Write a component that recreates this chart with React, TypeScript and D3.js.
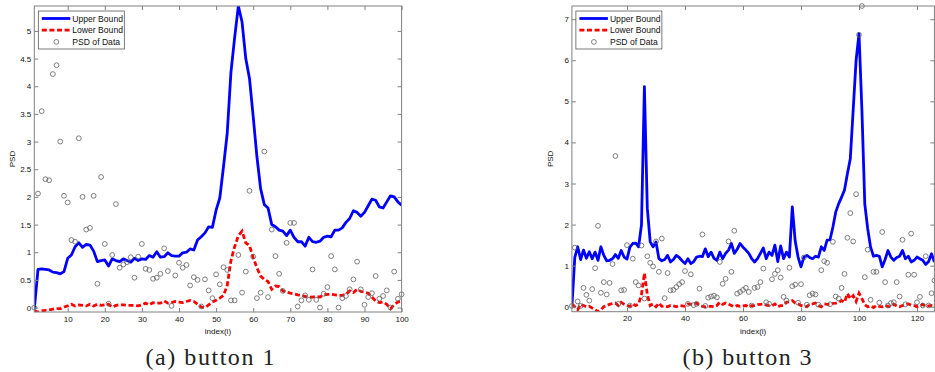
import React, { useRef, useEffect } from 'react';
import * as d3 from 'd3';

// button 1 (index 1..100)
const upper1 = [
  -0.03, 0.69, 0.70, 0.69, 0.68, 0.64, 0.63, 0.61, 0.65, 0.89,
  0.95, 1.10, 1.17, 1.09, 1.14, 1.13, 1.02, 0.83, 0.85, 0.86,
  0.75, 0.88, 0.85, 0.83, 0.88, 0.85, 0.82, 0.89, 0.85, 0.88,
  0.87, 0.94, 0.91, 1.01, 0.91, 0.92, 0.99, 0.94, 0.93, 0.93,
  0.99, 1.00, 1.06, 1.04, 1.22, 1.28, 1.35, 1.46, 1.45, 1.76,
  1.98, 2.55, 3.15, 4.25, 4.88, 5.45, 5.16, 4.50, 4.14, 3.45,
  2.73, 2.15, 1.86, 1.80, 1.50, 1.46, 1.40, 1.38, 1.30, 1.40,
  1.27, 1.19, 1.19, 1.11, 1.27, 1.19, 1.18, 1.20, 1.27, 1.29,
  1.28, 1.40, 1.40, 1.44, 1.54, 1.61, 1.75, 1.72, 1.65, 1.72,
  1.84, 1.96, 1.94, 1.82, 1.80, 1.91, 2.02, 2.00, 1.91, 1.85,
];
const lower1 = [
  -0.06, -0.08, -0.06, -0.05, -0.04, -0.03, -0.02, -0.02, 0.01, 0.03,
  0.06, 0.03, 0.05, 0.04, 0.03, 0.06, 0.03, 0.06, 0.04, 0.05,
  0.06, 0.01, 0.04, 0.05, 0.05, 0.04, 0.04, 0.04, 0.03, 0.05,
  0.08, 0.05, 0.09, 0.08, 0.08, 0.12, 0.08, 0.09, 0.11, 0.10,
  0.09, 0.11, 0.13, 0.11, 0.06, 0.01, 0.00, 0.05, 0.10, 0.13,
  0.17, 0.22, 0.40, 0.85, 1.10, 1.30, 1.38, 1.17, 1.12, 0.90,
  0.72, 0.57, 0.51, 0.47, 0.33, 0.39, 0.38, 0.30, 0.28, 0.26,
  0.25, 0.23, 0.22, 0.20, 0.19, 0.19, 0.20, 0.19, 0.23, 0.24,
  0.24, 0.23, 0.22, 0.22, 0.24, 0.30, 0.27, 0.33, 0.29, 0.28,
  0.26, 0.19, 0.12, 0.09, 0.10, 0.06, -0.02, 0.05, 0.10, 0.12,
];
const psd1 = [
  0.00, 2.06, 3.55, 2.32, 2.30, 4.22, 4.38, 3.00, 2.02, 1.90,
  1.22, 1.19, 3.06, 2.00, 1.41, 1.44, 2.02, 0.43, 2.36, 1.15,
  0.07, 0.95, 1.87, 0.72, 0.78, 0.82, 0.91, 0.54, 0.92, 1.15,
  0.70, 0.68, 0.52, 0.54, 0.61, 1.07, 0.66, 0.03, 0.58, 0.81,
  0.72, 0.77, 0.40, 0.55, 0.50, 0.02, 0.51, 0.31, 0.17, 0.60,
  0.42, 0.73, 0.68, 0.13, 0.13, 0.95, 0.27, 0.65, 2.11, 0.92,
  0.17, 0.27, 2.82, 0.19, 1.41, 0.93, 0.61, 0.30, 1.17, 1.53,
  1.53, 0.02, 0.13, 0.22, 0.14, 0.69, 0.14, 0.00, 0.25, 0.37,
  0.93, 0.69, 0.00, 0.17, 0.21, 0.33, 0.51, 0.83, 0.33, 0.05,
  0.19, 0.26, 0.57, 0.16, 0.21, 0.31, 0.00, 0.65, 0.16, 0.24,
];

// button 3 (index 1..126)
const upper3 = [
  0.00, 1.20, 1.46, 1.15, 1.38, 1.18, 1.34, 1.17, 1.33, 1.13,
  1.46, 1.25, 1.12, 1.13, 1.17, 1.27, 1.18, 1.37, 1.21, 1.16,
  1.45, 1.54, 1.55, 1.46, 2.00, 5.36, 2.40, 1.58, 1.46, 1.58,
  1.17, 1.12, 1.15, 1.25, 1.09, 1.15, 1.25, 1.20, 1.12, 1.05,
  1.17, 1.05, 1.10, 1.21, 1.23, 1.22, 1.41, 1.22, 1.33, 1.18,
  1.13, 1.33, 1.17, 1.30, 1.38, 1.54, 1.30, 1.40, 1.54, 1.45,
  1.38, 1.30, 1.17, 1.09, 1.17, 1.30, 1.43, 1.17, 1.33, 1.25,
  1.50, 1.10, 1.48, 1.17, 1.33, 1.21, 2.43, 1.60, 1.21, 0.97,
  1.21, 1.25, 1.20, 1.17, 1.23, 1.21, 1.46, 1.37, 1.62, 1.63,
  1.94, 2.31, 2.51, 2.67, 2.84, 3.24, 3.60, 4.80, 6.00, 6.65,
  4.80, 2.50, 1.90, 1.45, 1.23, 1.25, 1.23, 0.97, 1.15, 1.37,
  1.21, 1.13, 1.20, 1.23, 1.37, 1.17, 1.23, 1.09, 1.13, 1.21,
  1.17, 1.13, 1.03, 1.10, 1.29, 1.09,
];
const lower3 = [
  0.07, 0.00, -0.07, 0.06, 0.03, 0.00, 0.01, -0.03, -0.07, -0.12,
  -0.07, 0.00, 0.03, 0.06, 0.08, 0.09, 0.03, 0.11, 0.06, 0.03,
  0.01, 0.07, 0.03, 0.07, 0.30, 0.82, 0.30, 0.03, 0.07, 0.00,
  0.09, 0.01, 0.02, 0.00, 0.03, 0.02, 0.00, 0.03, 0.02, 0.01,
  0.07, 0.06, 0.08, 0.09, 0.03, 0.01, 0.00, 0.01, 0.01, 0.00,
  0.03, 0.11, 0.06, 0.09, 0.06, 0.03, 0.00, 0.03, 0.01, 0.02,
  0.03, 0.00, 0.03, 0.03, 0.05, 0.06, 0.07, 0.04, 0.03, 0.03,
  0.07, 0.00, 0.03, 0.03, 0.11, 0.12, 0.15, 0.09, 0.07, 0.03,
  0.02, 0.00, 0.06, 0.07, 0.09, 0.03, 0.00, 0.07, 0.06, 0.06,
  0.08, 0.09, 0.11, 0.15, 0.11, 0.32, 0.20, 0.27, 0.13, 0.33,
  0.20, 0.05, 0.00, 0.02, -0.02, 0.03, 0.01, 0.00, 0.03, 0.01,
  0.00, 0.06, 0.02, 0.00, 0.03, 0.05, 0.07, 0.04, 0.03, 0.00,
  0.02, 0.06, 0.01, 0.02, 0.03, 0.01,
];
const psd3 = [
  0.02, 1.44, 0.13, 0.02, 0.46, 0.29, 0.15, 0.43, 0.94, 1.97,
  0.34, 0.60, 0.30, 0.58, 1.04, 3.67, 0.07, 0.40, 0.41, 1.50,
  0.03, 1.17, 0.60, 0.52, 1.49, 0.20, 1.23, 1.07, 0.98, 1.59,
  0.85, 1.66, 0.21, 0.82, 0.40, 0.41, 0.48, 0.55, 0.60, 0.87,
  0.07, 0.79, 0.04, 0.07, 0.44, 1.76, 0.02, 0.22, 0.25, 0.27,
  0.23, 1.09, 0.56, 0.68, 1.59, 0.85, 1.85, 0.32, 0.36, 0.41,
  0.46, 0.36, 0.03, 0.46, 0.48, 0.60, 0.93, 0.11, 0.07, 0.67,
  0.80, 0.89, 0.71, 0.24, 0.15, 0.95, 0.50, 0.54, 0.10, 0.55,
  1.20, 0.05, 0.28, 0.32, 0.30, 0.05, 0.89, 1.11, 1.07, 0.06,
  1.58, 0.25, 0.20, 0.46, 0.80, 1.68, 2.28, 1.59, 2.74, 6.62,
  7.32, 0.72, 1.39, 0.17, 0.85, 0.85, 0.10, 1.82, 0.60, 0.03,
  0.09, 0.11, 0.60, 0.25, 1.63, 0.06, 0.78, 1.78, 0.78, 0.11,
  0.24, 0.03, 1.23, 0.03, 0.33, 0.64,
];

const xTicks1 = [10, 20, 30, 40, 50, 60, 70, 80, 90, 100];
const yTicks1 = [0, 0.5, 1, 1.5, 2, 2.5, 3, 3.5, 4, 4.5, 5];
const xTicks3 = [20, 40, 60, 80, 100, 120];
const yTicks3 = [0, 1, 2, 3, 4, 5, 6, 7];
const legendLabels = ['Upper Bound', 'Lower Bound', 'PSD of Data'];

const sans = 'Liberation Sans, Arial, Helvetica, sans-serif';

interface PanelProps {
  upper: number[];
  lower: number[];
  psd: number[];
  xTicks: number[];
  yTicks: number[];
  x0: number;
  x1: number;
  y0: number;
  y1: number;
  caption: string;
  captionX: number;
}

const Panel: React.FC<PanelProps> = ({ upper, lower, psd, xTicks, yTicks, x0, x1, y0, y1, caption, captionX }) => {
  const ref = useRef<SVGGElement | null>(null);

  useEffect(() => {
    const g = d3.select(ref.current);
    g.selectAll('*').remove();

    const n = upper.length;
    const x = d3.scaleLinear().domain([1, n]).range([x0, x1]);
    // axis tight: limits come from the data itself
    const y = d3.scaleLinear()
      .domain(d3.extent([...upper, ...lower, ...psd]) as [number, number])
      .range([y1, y0]);

    const clipId = 'clip-' + caption.replace(/\W/g, '');
    g.append('clipPath').attr('id', clipId)
      .append('rect')
      .attr('x', x0).attr('y', y0)
      .attr('width', x1 - x0).attr('height', y1 - y0);

    const line = d3.line<number>().x((_, i) => x(i + 1)).y(d => y(d));

    g.append('path')
      .datum(upper)
      .attr('d', line)
      .attr('clip-path', `url(#${clipId})`)
      .attr('fill', 'none')
      .attr('stroke', '#0000ff')
      .attr('stroke-width', 2.8)
      .attr('stroke-linejoin', 'round');

    g.append('path')
      .datum(lower)
      .attr('d', line)
      .attr('clip-path', `url(#${clipId})`)
      .attr('fill', 'none')
      .attr('stroke', '#ff0000')
      .attr('stroke-width', 2.8)
      .attr('stroke-dasharray', '5,2.6');

    g.selectAll('circle.psd')
      .data(psd)
      .enter()
      .append('circle')
      .attr('class', 'psd')
      .attr('cx', (_, i) => x(i + 1))
      .attr('cy', d => y(d))
      .attr('r', 2.4)
      .attr('fill', 'none')
      .attr('stroke', '#606060')
      .attr('stroke-width', 0.8);

    const styleAxis = (sel: d3.Selection<SVGGElement, unknown, null, undefined>) => {
      sel.select('.domain').remove();
      sel.selectAll('line').attr('stroke', '#808080');
      sel.selectAll('text')
        .attr('fill', '#111')
        .attr('font-size', 8)
        .attr('font-family', sans);
    };
    const fmt = (d: d3.NumberValue) => String(d);

    g.append('g')
      .attr('transform', `translate(0,${y1})`)
      .call(d3.axisBottom(x).tickValues(xTicks).tickSize(-4).tickPadding(4).tickFormat(fmt))
      .call(styleAxis);
    g.append('g')
      .attr('transform', `translate(0,${y0})`)
      .call(d3.axisTop(x).tickValues(xTicks).tickSize(-4).tickFormat(() => ''))
      .call(styleAxis);
    g.append('g')
      .attr('transform', `translate(${x0},0)`)
      .call(d3.axisLeft(y).tickValues(yTicks).tickSize(-4).tickPadding(3).tickFormat(fmt))
      .call(styleAxis);
    g.append('g')
      .attr('transform', `translate(${x1},0)`)
      .call(d3.axisRight(y).tickValues(yTicks).tickSize(-4).tickFormat(() => ''))
      .call(styleAxis);

    g.append('rect')
      .attr('x', x0).attr('y', y0)
      .attr('width', x1 - x0).attr('height', y1 - y0)
      .attr('fill', 'none')
      .attr('stroke', '#808080')
      .attr('stroke-width', 1);

    // Axis labels
    g.append('text')
      .attr('x', (x0 + x1) / 2)
      .attr('y', y1 + 22)
      .attr('text-anchor', 'middle')
      .attr('font-size', 8)
      .attr('font-family', sans)
      .attr('fill', '#111')
      .text('index(i)');
    g.append('text')
      .attr('transform', `translate(${x0 - 19},${(y0 + y1) / 2}) rotate(-90)`)
      .attr('text-anchor', 'middle')
      .attr('font-size', 8)
      .attr('font-family', sans)
      .attr('fill', '#111')
      .text('PSD');

    // Legend
    const lg = g.append('g').attr('transform', `translate(${x0 + 4},${y0 + 5})`);
    lg.append('rect')
      .attr('width', 86).attr('height', 38)
      .attr('fill', '#fff')
      .attr('stroke', '#444')
      .attr('stroke-width', 0.7);
    legendLabels.forEach((label, k) => {
      const cy = 7.5 + k * 11.7;
      if (k === 0) {
        lg.append('line').attr('x1', 3.5).attr('x2', 32).attr('y1', cy).attr('y2', cy)
          .attr('stroke', '#0000ff').attr('stroke-width', 2.8);
      } else if (k === 1) {
        lg.append('line').attr('x1', 3.5).attr('x2', 32).attr('y1', cy).attr('y2', cy)
          .attr('stroke', '#ff0000').attr('stroke-width', 2.8).attr('stroke-dasharray', '5,2.6');
      } else {
        lg.append('circle').attr('cx', 18).attr('cy', cy).attr('r', 2.4)
          .attr('fill', 'none').attr('stroke', '#606060').attr('stroke-width', 0.8);
      }
      lg.append('text')
        .attr('x', 34)
        .attr('y', cy + 3)
        .attr('font-size', 8.6)
        .attr('font-family', sans)
        .attr('fill', '#111')
        .text(label);
    });

    // Caption
    g.append('text')
      .attr('x', captionX)
      .attr('y', 365)
      .attr('text-anchor', 'middle')
      .attr('font-size', 24)
      .attr('font-family', 'Liberation Serif, Times New Roman, serif')
      .attr('fill', '#222')
      .attr('textLength', 129)
      .attr('lengthAdjust', 'spacing')
      .text(caption);
  }, [upper, lower, psd, xTicks, yTicks, x0, x1, y0, y1, caption, captionX]);

  return <g ref={ref} />;
};

const App: React.FC = () => (
  <div style={{ position: 'absolute', left: 0, top: 0 }}>
    <svg width={935} height={372} style={{ display: 'block', background: '#fff' }}>
      <Panel upper={upper1} lower={lower1} psd={psd1} xTicks={xTicks1} yTicks={yTicks1}
        x0={34.3} x1={401.6} y0={6} y1={312} caption="(a) button 1" captionX={210} />
      <Panel upper={upper3} lower={lower3} psd={psd3} xTicks={xTicks3} yTicks={yTicks3}
        x0={571.9} x1={934.4} y0={6} y1={311.7} caption="(b) button 3" captionX={747} />
    </svg>
  </div>
);

export default App;
